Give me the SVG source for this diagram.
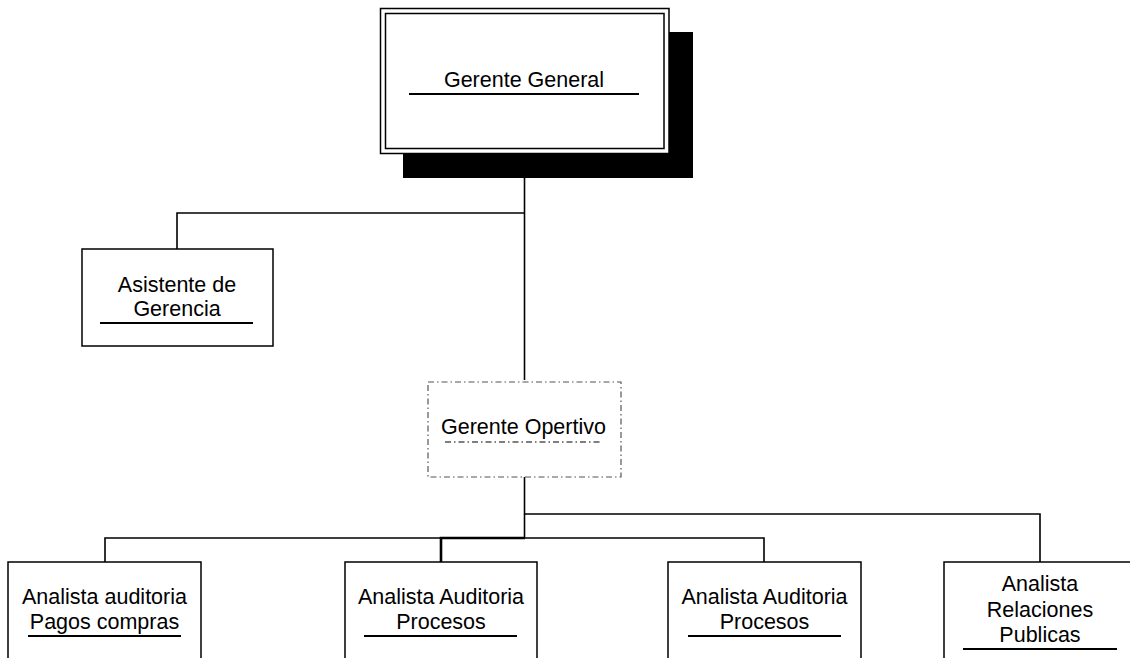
<svg xmlns="http://www.w3.org/2000/svg" width="1130" height="658" viewBox="0 0 1130 658">
  <style>
    .box { fill: #ffffff; stroke: #000000; stroke-width: 1.5; }
    .dash { fill: #ffffff; stroke: #555555; stroke-width: 1.2; stroke-dasharray: 6 3 1.5 3; }
    .wire { fill: none; stroke: #000000; stroke-width: 1.6; }
    .rule { stroke: #000000; stroke-width: 2; }
    .rule-dash { stroke: #555555; stroke-width: 1.5; stroke-dasharray: 6 3 1.5 3; }
    .lbl { font-family: "Liberation Sans", Arial, sans-serif; font-size: 21.5px; fill: #000000; text-anchor: middle; }
  </style>

  <!-- connectors -->
  <g id="connectors">
    <path class="wire" d="M524.5 178 V380"/>
    <path class="wire" d="M524.5 213 H177 V249"/>
    <path class="wire" d="M524.5 477 V538"/>
    <path class="wire" d="M524.5 514 H1040 V562"/>
    <path class="wire" d="M105 562 V538 H764 V562"/>
    <path class="wire" style="stroke-width:2.6" d="M441 562 V538 H525"/>
  </g>

  <!-- top manager, double frame with drop shadow -->
  <g id="gerente-general">
    <rect x="403" y="32" width="290" height="146" fill="#000000"/>
    <rect class="box" x="380.5" y="8.5" width="288.5" height="145"/>
    <rect fill="none" stroke="#000000" stroke-width="1.5" x="385.5" y="13.5" width="278.5" height="135"/>
    <text class="lbl" x="524" y="87">Gerente General</text>
    <line class="rule" x1="409" y1="94" x2="639" y2="94"/>
  </g>

  <g id="asistente-gerencia">
    <rect class="box" x="82" y="249" width="191" height="97"/>
    <text class="lbl" x="177" y="292">Asistente de</text>
    <text class="lbl" x="177" y="316">Gerencia</text>
    <line class="rule" x1="100" y1="323" x2="253" y2="323"/>
  </g>

  <g id="gerente-operativo">
    <rect class="dash" x="428" y="382" width="193" height="95"/>
    <text class="lbl" x="523.5" y="434">Gerente Opertivo</text>
    <line class="rule-dash" x1="445" y1="442" x2="600" y2="442"/>
  </g>

  <g id="analista-pagos">
    <rect class="box" x="8" y="562" width="193" height="110"/>
    <text class="lbl" x="104.5" y="604">Analista auditoria</text>
    <text class="lbl" x="104.5" y="629">Pagos compras</text>
    <line class="rule" x1="28" y1="636" x2="181" y2="636"/>
  </g>

  <g id="analista-procesos-1">
    <rect class="box" x="345" y="562" width="192" height="110"/>
    <text class="lbl" x="441" y="604">Analista Auditoria</text>
    <text class="lbl" x="441" y="629">Procesos</text>
    <line class="rule" x1="364" y1="636" x2="517" y2="636"/>
  </g>

  <g id="analista-procesos-2">
    <rect class="box" x="668" y="562" width="193" height="110"/>
    <text class="lbl" x="764.5" y="604">Analista Auditoria</text>
    <text class="lbl" x="764.5" y="629">Procesos</text>
    <line class="rule" x1="688" y1="636" x2="841" y2="636"/>
  </g>

  <g id="analista-relaciones">
    <rect class="box" x="944" y="562" width="193" height="110"/>
    <text class="lbl" x="1040" y="591">Analista</text>
    <text class="lbl" x="1040" y="617">Relaciones</text>
    <text class="lbl" x="1040" y="642">Publicas</text>
    <line class="rule" x1="963" y1="649" x2="1117" y2="649"/>
  </g>
</svg>
